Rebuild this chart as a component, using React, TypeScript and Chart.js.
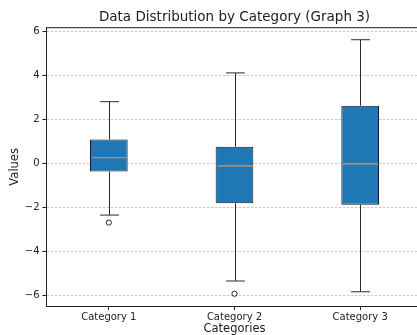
import React, { useEffect, useRef } from "react";
import { Chart, registerables } from "chart.js";

Chart.register(...registerables);

const categories = ["Category 1", "Category 2", "Category 3"];
const whiskerLow = [-2.36, -5.36, -5.85];
const q1 = [-0.38, -1.82, -1.89];
const median = [0.25, -0.12, -0.03];
const q3 = [1.08, 0.75, 2.62];
const whiskerHigh = [2.8, 4.11, 5.62];
const outliers = [-2.7, -5.94, null];
const yTicks = [-6, -4, -2, 0, 2, 4, 6];

const boxPlugin = {
  id: "boxWhiskers",
  afterDatasetsDraw(chart: any) {
    const { ctx, chartArea } = chart;
    const xs = chart.scales.x;
    const ys = chart.scales.y;
    const meta = chart.getDatasetMeta(0);
    ctx.save();
    categories.forEach((_, i) => {
      const cx = Math.round(xs.getPixelForValue(i)) + 0.5;
      const half = meta.data[i].width / 2;
      const cap = half / 2;
      const yLo = ys.getPixelForValue(whiskerLow[i]);
      const yHi = ys.getPixelForValue(whiskerHigh[i]);
      const yQ1 = ys.getPixelForValue(q1[i]);
      const yQ3 = ys.getPixelForValue(q3[i]);
      const yMed = ys.getPixelForValue(median[i]);
      ctx.strokeStyle = "#2a2a2a";
      ctx.lineWidth = 1;
      ctx.beginPath();
      ctx.moveTo(cx, yQ3);
      ctx.lineTo(cx, yHi);
      ctx.moveTo(cx - cap, yHi);
      ctx.lineTo(cx + cap, yHi);
      ctx.moveTo(cx, yQ1);
      ctx.lineTo(cx, yLo);
      ctx.moveTo(cx - cap, yLo);
      ctx.lineTo(cx + cap, yLo);
      ctx.stroke();
      ctx.strokeStyle = "#e8954a";
      ctx.lineWidth = 1.2;
      ctx.beginPath();
      ctx.moveTo(cx - half + 1, yMed);
      ctx.lineTo(cx + half - 1, yMed);
      ctx.stroke();
    });
    // top and right spines
    ctx.strokeStyle = "#222";
    ctx.lineWidth = 1;
    ctx.beginPath();
    ctx.moveTo(chartArea.left, chartArea.top + 0.5);
    ctx.lineTo(chartArea.right, chartArea.top + 0.5);
    ctx.lineTo(chartArea.right, chartArea.bottom);
    ctx.stroke();
    ctx.restore();
  },
};

export default function App() {
  const ref = useRef<HTMLCanvasElement>(null);
  useEffect(() => {
    if (!ref.current) return;
    Chart.defaults.font.family = "'DejaVu Sans', sans-serif";
    const chart = new Chart(ref.current, {
      type: "bar",
      data: {
        labels: categories,
        datasets: [
          {
            type: "bar",
            data: categories.map((_, i) => [q1[i], q3[i]]) as any,
            backgroundColor: "#1f77b4",
            borderColor: "#1a1a2a",
            borderWidth: 1,
            borderSkipped: false,
            barPercentage: 0.3,
            categoryPercentage: 1,
            order: 2,
          },
          {
            type: "line",
            data: outliers as any,
            showLine: false,
            pointRadius: 2.6,
            pointBackgroundColor: "rgba(0,0,0,0)",
            pointBorderColor: "#222",
            pointBorderWidth: 1,
            order: 1,
          } as any,
        ],
      },
      options: {
        animation: false,
        responsive: false,
        devicePixelRatio: 1,
        layout: { padding: { left: 0, right: 7, top: 0, bottom: 0 } },
        plugins: {
          legend: { display: false },
          tooltip: { enabled: false },
          title: {
            display: true,
            text: "Data Distribution by Category (Graph 3)",
            fullSize: false,
            color: "#222",
            font: { size: 13.5, weight: "normal" as any, lineHeight: 1.2 },
            padding: { top: 9, bottom: 2 },
          },
        },
        scales: {
          x: {
            type: "category",
            offset: true,
            afterFit: (s: any) => {
              s.height = 28.5;
            },
            grid: {
              display: true,
              drawOnChartArea: false,
              drawTicks: true,
              tickLength: 3.5,
              tickColor: "#222",
              offset: false,
            },
            border: { display: true, color: "#222", width: 1 },
            ticks: { color: "#222", font: { size: 10 }, padding: 1, maxRotation: 0 },
            title: {
              display: true,
              text: "Categories",
              color: "#222",
              font: { size: 11.5, lineHeight: 1 },
              padding: { top: 0, bottom: 0 },
            },
          },
          y: {
            type: "linear",
            min: -6.52,
            max: 6.19,
            afterFit: (s: any) => {
              s.width = 46;
            },
            afterBuildTicks: (s: any) => {
              s.ticks = yTicks.map((v) => ({ value: v }));
            },
            grid: {
              color: "rgba(170,170,170,0.8)",
              lineWidth: 0.8,
              tickLength: 3.5,
              tickColor: "#222",
              tickWidth: 1,
              tickBorderDash: [],
            },
            border: { display: true, color: "#222", width: 1, dash: [2.5, 1.5] },
            ticks: {
              color: "#222",
              font: { size: 10 },
              padding: 3,
              callback: (v: any) => String(v).replace("-", "\u2212"),
            },
            title: {
              display: true,
              text: "Values",
              color: "#222",
              font: { size: 11.5, lineHeight: 1 },
              padding: { top: 9, bottom: 0 },
            },
          },
        },
      },
      plugins: [boxPlugin],
    });
    return () => chart.destroy();
  }, []);
  return (
    <div
      style={{
        position: "fixed",
        left: 0,
        top: 0,
        width: 417,
        height: 335,
        overflow: "hidden",
        background: "#fff",
      }}
    >
      <canvas ref={ref} width={430} height={335} style={{ width: 430, height: 335, display: "block" }} />
    </div>
  );
}
